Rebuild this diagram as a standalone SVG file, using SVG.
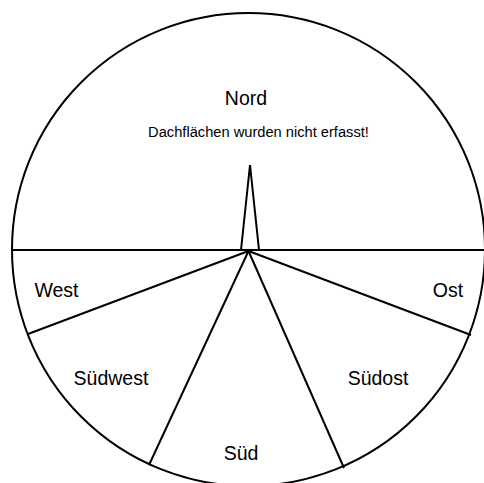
<svg xmlns="http://www.w3.org/2000/svg" width="484" height="483" viewBox="0 0 484 483">
<style>
.ln{stroke:#000;stroke-width:2;fill:none}
.t{font-family:"Liberation Sans",Arial,sans-serif;fill:#000;text-anchor:middle}
.big{font-size:19.5px}
.small{font-size:14.67px}
</style>
<rect width="484" height="483" fill="#fff"/>
<g id="compass">
<circle class="ln" cx="248.5" cy="249.5" r="236.5"/>
</g>
<g id="connectors">
<line class="ln" x1="13" y1="250" x2="484" y2="250"/>
<line class="ln" x1="248.5" y1="251" x2="28" y2="334"/>
<line class="ln" x1="248.5" y1="251" x2="149" y2="465"/>
<line class="ln" x1="248.5" y1="251" x2="344" y2="468"/>
<line class="ln" x1="248.5" y1="251" x2="471" y2="335"/>
<polygon class="ln" points="241,250 250,165 259,250"/>
</g>
<g id="nord">
<text class="t big" x="246" y="105">Nord</text>
<text class="t small" x="258.5" y="137">Dachflächen wurden nicht erfasst!</text>
</g>
<g id="west"><text class="t big" x="56.5" y="297">West</text></g>
<g id="ost"><text class="t big" x="448" y="297">Ost</text></g>
<g id="suedwest"><text class="t big" x="111" y="385">Südwest</text></g>
<g id="suedost"><text class="t big" x="378" y="385">Südost</text></g>
<g id="sued"><text class="t big" x="241" y="460">Süd</text></g>
</svg>
